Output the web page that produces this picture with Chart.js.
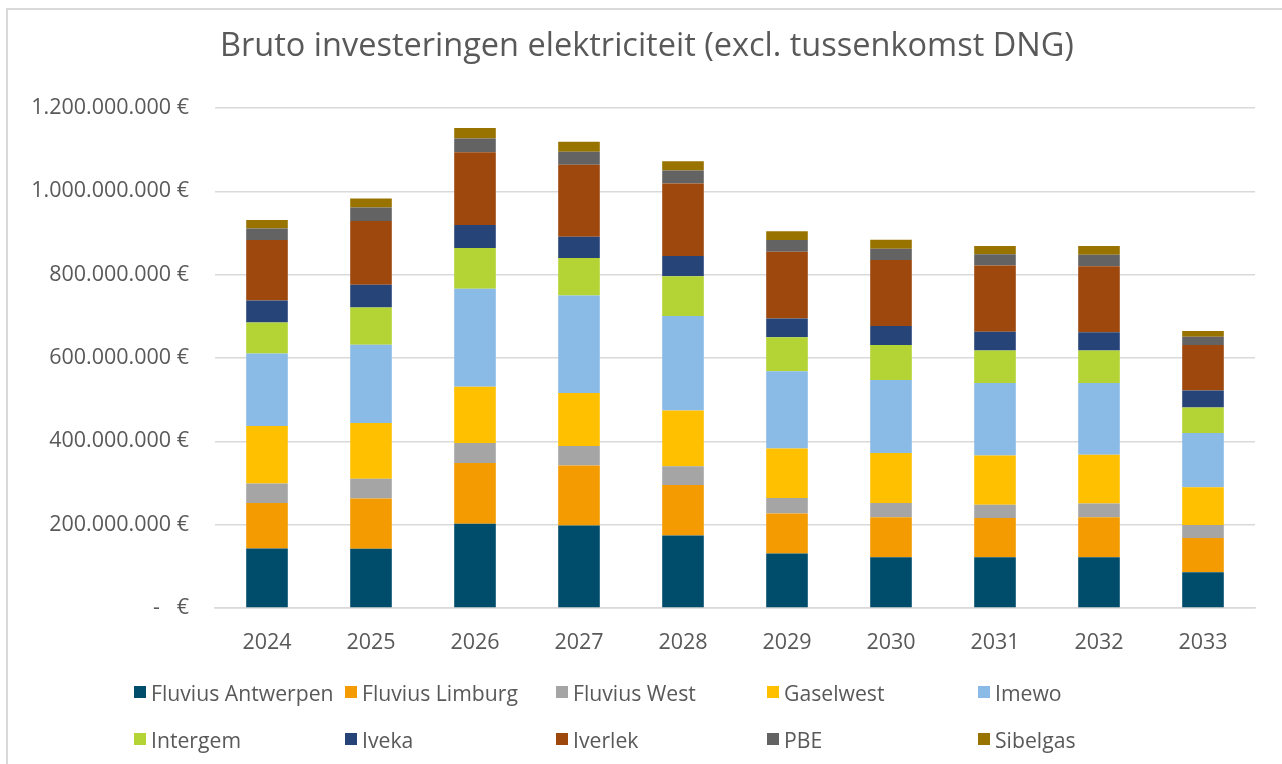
<!DOCTYPE html>
<html>
<head>
<meta charset="utf-8">
<script src="https://cdn.jsdelivr.net/npm/chart.js@4.4.1/dist/chart.umd.min.js"></script>
<style>
    body { margin: 0; background: #fff; }
    #wrap { position: relative; width: 1282px; height: 764px; overflow: hidden; }
    #frame { position: absolute; left: 6px; top: 8px; width: 1300px; height: 800px;
             border-left: 2px solid #d9d9d9; border-top: 2px solid #d9d9d9; }
    #grafico { position: absolute; left: 0; top: 0; }
    #titel { position: absolute; left: 147px; top: 24px; width: 1000px; text-align: center;
             font-family: "Open Sans", sans-serif; font-size: 32.5px; line-height: 40px;
             color: #595959; white-space: nowrap; }
    #legenda { position: absolute; left: 134px; top: 678px; display: grid;
               grid-template-columns: repeat(5, 211px); row-gap: 19px;
               font-family: "Open Sans", sans-serif; font-size: 21.2px; color: #595959; }
    .item { display: flex; align-items: center; height: 28px; white-space: nowrap; }
    .box { width: 12px; height: 12px; margin-right: 5px; flex: none; }
</style>
</head>
<body>
<div id="wrap">
    <div id="frame"></div>
    <canvas id="grafico" width="1282" height="764"></canvas>
    <div id="titel">Bruto investeringen elektriciteit (excl. tussenkomst DNG)</div>
    <div id="legenda"></div>
</div>
<script>
// waarden in miljoen euro
const jaren = ['2024', '2025', '2026', '2027', '2028', '2029', '2030', '2031', '2032', '2033'];

const fluviusAntwerpen = [143, 142, 202, 198, 174, 131, 122, 122, 122, 86];
const fluviusLimburg   = [109, 121, 146, 144, 121, 96, 96, 94, 96, 82];
const fluviusWest      = [47, 47, 48, 47, 45, 37, 34, 32, 33, 31];
const gaselwest        = [138, 134, 135, 127, 134, 119, 120, 118, 117, 91];
const imewo            = [174, 188, 235, 234, 227, 185, 175, 174, 172, 130];
const intergem         = [74, 89, 98, 90, 95, 82, 84, 78, 78, 61];
const iveka            = [53, 55, 55, 51, 49, 45, 46, 45, 44, 41];
const iverlek          = [145, 153, 175, 173, 174, 160, 158, 159, 158, 109];
const pbe              = [28, 32, 33, 31, 31, 28, 27, 27, 28, 20];
const sibelgas         = [20, 22, 25, 24, 22, 21, 22, 20, 21, 14];

const reeksNamen = ['Fluvius Antwerpen', 'Fluvius Limburg', 'Fluvius West', 'Gaselwest', 'Imewo',
                    'Intergem', 'Iveka', 'Iverlek', 'PBE', 'Sibelgas'];
const reeksWaarden = [fluviusAntwerpen, fluviusLimburg, fluviusWest, gaselwest, imewo,
                      intergem, iveka, iverlek, pbe, sibelgas];
const kleuren = ['#004c6b', '#f39b00', '#a5a5a5', '#ffc000', '#8abae6',
                 '#b4d335', '#264478', '#9e480e', '#636363', '#997300'];

const yTicks = [0, 200, 400, 600, 800, 1000, 1200];

const tekstKleur = '#595959';
const lettertype = '"Open Sans", sans-serif';

function formatEuro(v) {
    if (v === 0) return '-   €';
    return String(v).replace(/\B(?=(\d{3})+(?!\d))/g, '.') + ' €';
}

const datasets = reeksNamen.map((naam, i) => ({
    label: naam,
    data: reeksWaarden[i].map(v => v * 1e6),
    backgroundColor: kleuren[i],
    borderWidth: 0,
    barPercentage: 0.4,
    categoryPercentage: 1.0
}));

new Chart(document.getElementById('grafico'), {
    type: 'bar',
    data: { labels: jaren, datasets: datasets },
    options: {
        responsive: false,
        animation: false,
        layout: { padding: { left: 0, right: 27, top: 108, bottom: 0 } },
        plugins: {
            legend: { display: false },
            tooltip: { enabled: false },
            title: { display: false }
        },
        scales: {
            x: {
                stacked: true,
                grid: { display: false },
                border: { color: '#d9d9d9', width: 1.5 },
                ticks: { color: tekstKleur, font: { family: lettertype, size: 21.5 }, padding: 14 },
                afterFit: s => { s.height = 156; }
            },
            y: {
                stacked: true,
                min: 0,
                max: 1200e6,
                afterBuildTicks: s => { s.ticks = yTicks.map(v => ({ value: v * 1e6 })); },
                grid: { color: '#d9d9d9', lineWidth: 1.5, drawTicks: false },
                border: { display: false },
                ticks: {
                    color: tekstKleur,
                    font: { family: lettertype, size: 21.5 },
                    padding: 26,
                    callback: v => formatEuro(v)
                },
                afterFit: s => { s.width = 215; }
            }
        }
    }
});

const legenda = document.getElementById('legenda');
reeksNamen.forEach((naam, i) => {
    const item = document.createElement('div');
    item.className = 'item';
    item.innerHTML = `<span class="box" style="background:${kleuren[i]}"></span><span>${naam}</span>`;
    legenda.appendChild(item);
});
</script>
</body>
</html>
